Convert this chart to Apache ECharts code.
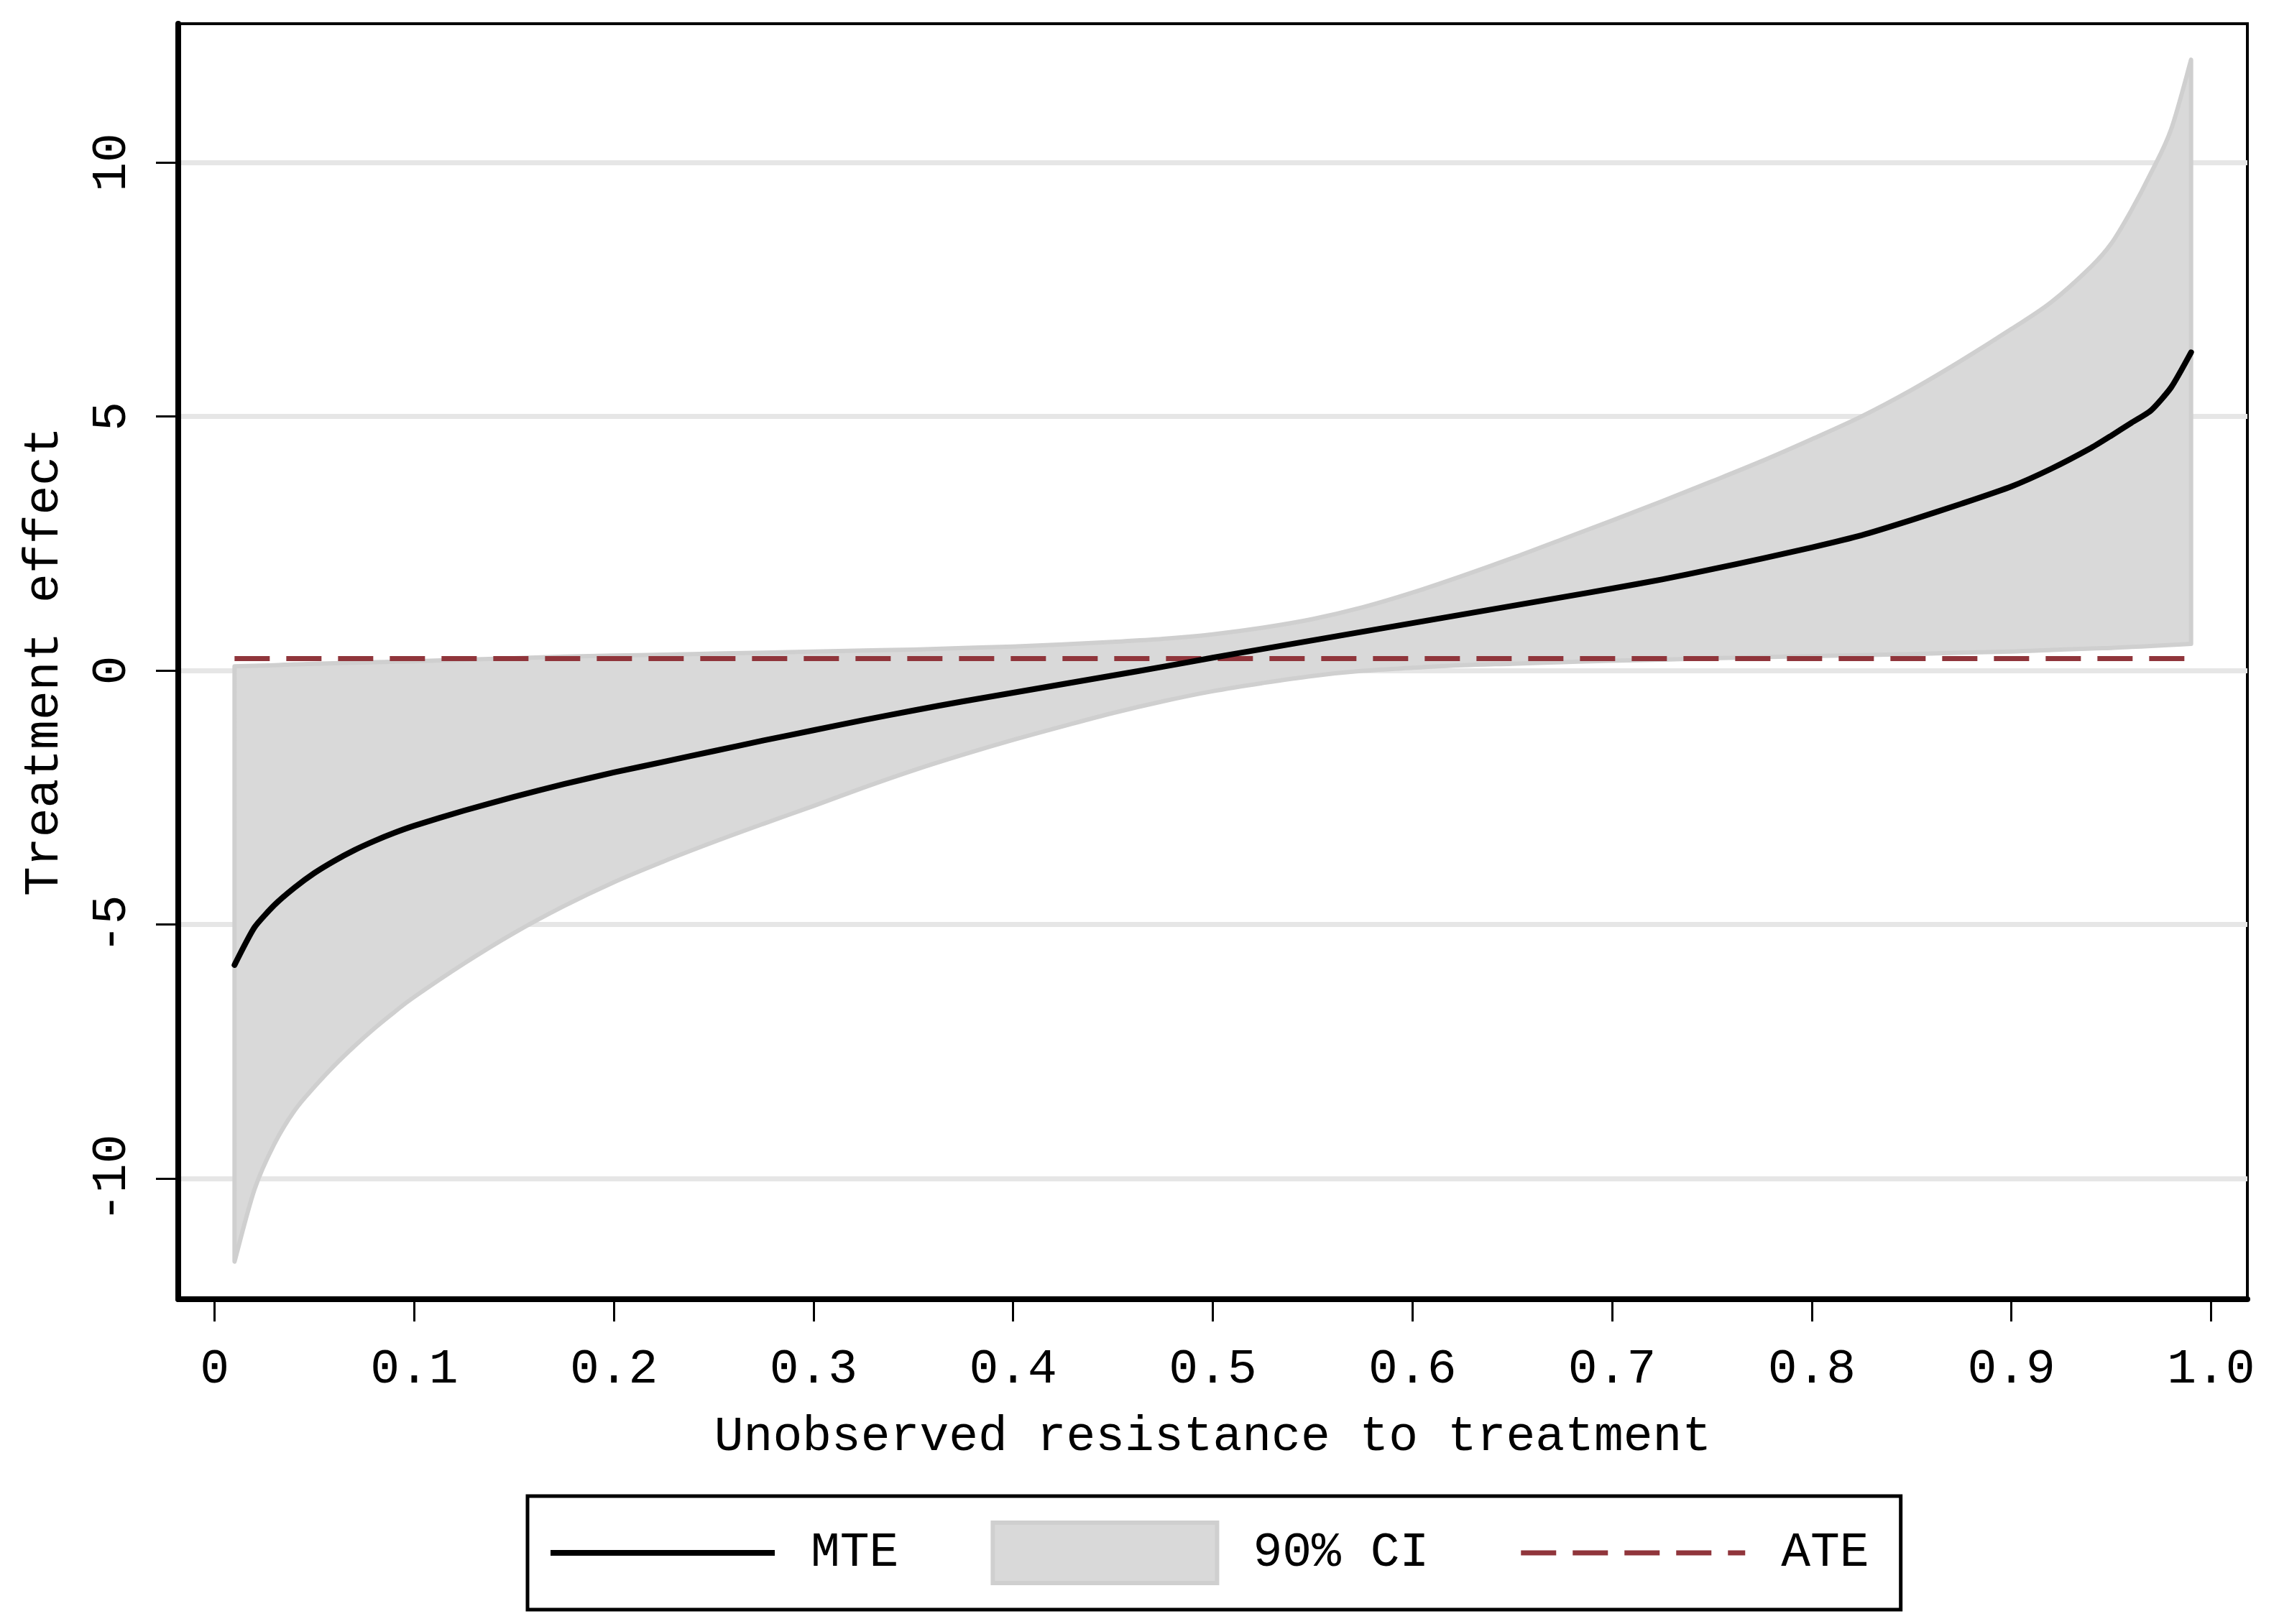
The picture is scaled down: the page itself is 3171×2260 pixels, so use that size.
<!DOCTYPE html>
<html>
<head>
<meta charset="utf-8">
<script src="https://cdn.jsdelivr.net/npm/echarts@6/dist/echarts.min.js"></script>
<style>
html,body{margin:0;padding:0;background:#fff;}
#c{width:3171px;height:2260px;}
</style>
</head>
<body>
<div id="c"></div>
<script>
// ---- data ----
const xs = [0.01,0.02,0.03,0.04,0.05,0.06,0.07,0.08,0.09,0.10,0.125,0.15,0.175,0.20,0.225,0.25,0.275,0.30,0.325,0.35,0.375,0.40,0.425,0.45,0.475,0.50,0.525,0.55,0.575,0.60,0.625,0.65,0.675,0.70,0.725,0.75,0.775,0.80,0.825,0.85,0.875,0.90,0.92,0.94,0.95,0.96,0.97,0.98,0.99];
const mte = [-5.80,-5.06,-4.62,-4.28,-3.99,-3.75,-3.54,-3.36,-3.20,-3.06,-2.76,-2.49,-2.24,-2.01,-1.80,-1.59,-1.38,-1.18,-0.98,-0.79,-0.61,-0.44,-0.27,-0.10,0.07,0.25,0.42,0.59,0.76,0.93,1.10,1.27,1.44,1.61,1.79,1.99,2.20,2.42,2.66,2.96,3.28,3.62,3.97,4.38,4.62,4.87,5.12,5.57,6.26];
const ciLower = [-11.64,-10.22,-9.32,-8.67,-8.20,-7.78,-7.40,-7.05,-6.73,-6.43,-5.77,-5.17,-4.64,-4.17,-3.76,-3.38,-3.02,-2.67,-2.31,-1.97,-1.66,-1.37,-1.10,-0.84,-0.61,-0.41,-0.25,-0.11,-0.01,0.05,0.10,0.13,0.16,0.19,0.21,0.24,0.26,0.28,0.30,0.32,0.35,0.37,0.40,0.43,0.44,0.46,0.48,0.50,0.52];
const ciUpper = [0.08,0.09,0.10,0.12,0.13,0.14,0.15,0.16,0.17,0.18,0.21,0.24,0.27,0.29,0.31,0.33,0.35,0.37,0.39,0.41,0.44,0.47,0.51,0.56,0.62,0.71,0.84,1.01,1.24,1.53,1.86,2.21,2.58,2.95,3.33,3.72,4.12,4.55,5.00,5.52,6.10,6.72,7.25,7.95,8.40,9.05,9.80,10.65,12.02];
const ateValue = 0.23;
const ateRange = [0.01, 0.99];
const xTicks = [0,0.1,0.2,0.3,0.4,0.5,0.6,0.7,0.8,0.9,1.0];
const xTickLabels = ['0','0.1','0.2','0.3','0.4','0.5','0.6','0.7','0.8','0.9','1.0'];
const yTicks = [-10,-5,0,5,10];
const yTickLabels = ['-10','-5','0','5','10'];
const seriesNames = ['MTE','90% CI','ATE'];
const xTitle = 'Unobserved resistance to treatment';
const yTitle = 'Treatment effect';

// ---- chart ----
const FONT = 'Liberation Mono';
const FS = 68;
const chart = echarts.init(document.getElementById('c'), null, {renderer:'canvas'});

function labelFor(ticks, labels){
  return function(v){
    for (let i=0;i<ticks.length;i++){ if (Math.abs(ticks[i]-v)<1e-9) return labels[i]; }
    return '';
  };
}

// Catmull-Rom spline through pixel points, as SVG path commands (no initial M)
function splineCmds(p){
  let s='';
  for(let i=0;i<p.length-1;i++){
    const p0=p[Math.max(i-1,0)], p1=p[i], p2=p[i+1], p3=p[Math.min(i+2,p.length-1)];
    const c1x=p1[0]+(p2[0]-p0[0])/6, c1y=p1[1]+(p2[1]-p0[1])/6;
    const c2x=p2[0]-(p3[0]-p1[0])/6, c2y=p2[1]-(p3[1]-p1[1])/6;
    s+=' C'+c1x.toFixed(2)+' '+c1y.toFixed(2)+' '+c2x.toFixed(2)+' '+c2y.toFixed(2)+' '+p2[0].toFixed(2)+' '+p2[1].toFixed(2);
  }
  return s;
}

// legend swatch shapes (icon paths, scaled by the legend into its item box)
const solidIcon = 'path://M0 0H312V8H0Z';
const dashIcon = 'path://M0 0H49V7H0Z M72 0H121V7H72Z M144 0H193V7H144Z M216 0H265V7H216Z M288 0H312V7H288Z';

const option = {
  animation:false,
  backgroundColor:'#ffffff',
  textStyle:{fontFamily:FONT,color:'#000'},
  grid:{left:248,right:44,top:33,bottom:452,show:true,borderColor:'#000',borderWidth:4,backgroundColor:'transparent'},
  xAxis:{
    type:'value',min:-0.0182,max:1.0182,
    name:xTitle,nameLocation:'middle',nameGap:192,
    nameTextStyle:{fontFamily:FONT,fontSize:FS,color:'#000',verticalAlign:'middle'},
    axisLine:{show:true,onZero:false,lineStyle:{color:'#000',width:8}},
    axisTick:{show:true,inside:false,length:31,customValues:xTicks,lineStyle:{color:'#000',width:3}},
    axisLabel:{show:true,customValues:xTicks,margin:98,verticalAlign:'middle',fontFamily:FONT,fontSize:FS,color:'#000',formatter:labelFor(xTicks,xTickLabels)},
    splitLine:{show:false}
  },
  yAxis:{
    type:'value',min:-12.38,max:12.73,
    name:yTitle,nameLocation:'middle',nameGap:186,
    nameTextStyle:{fontFamily:FONT,fontSize:FS,color:'#000',verticalAlign:'middle'},
    axisLine:{show:true,onZero:false,lineStyle:{color:'#000',width:8}},
    axisTick:{show:true,inside:false,length:31,customValues:yTicks,lineStyle:{color:'#000',width:3}},
    axisLabel:{show:true,customValues:yTicks,rotate:90,margin:92,align:'center',verticalAlign:'middle',fontFamily:FONT,fontSize:FS,color:'#000',formatter:labelFor(yTicks,yTickLabels)},
    splitLine:{show:true,lineStyle:{color:'#e6e6e6',width:7}}
  },
  legend:{
    left:734,top:2082,orient:'horizontal',
    padding:[34,44,34,32],itemGap:128,itemWidth:312,itemHeight:84,
    borderColor:'#000',borderWidth:5,backgroundColor:'#fff',selectedMode:false,
    textStyle:{fontFamily:FONT,fontSize:FS,color:'#000',padding:[0,0,0,45]},
    data:[
      {name:seriesNames[0],icon:solidIcon,itemStyle:{color:'#000',borderWidth:0}},
      {name:seriesNames[1],icon:'rect',itemStyle:{color:'#d9d9d9',borderColor:'#cfcfcf',borderWidth:6}},
      {name:seriesNames[2],icon:dashIcon,itemStyle:{color:'#90353b',borderWidth:0}}
    ]
  },
  series:[
    {
      type:'custom',name:seriesNames[1],coordinateSystem:'cartesian2d',
      data:[[xs[0],ciLower[0]]],encode:{x:0,y:1},silent:true,z:1,
      itemStyle:{color:'#d9d9d9'},
      renderItem:function(params,api){
        const up=[], lo=[];
        for(let i=0;i<xs.length;i++) up.push(api.coord([xs[i],ciUpper[i]]));
        for(let i=xs.length-1;i>=0;i--) lo.push(api.coord([xs[i],ciLower[i]]));
        const d='M'+up[0][0]+' '+up[0][1]+splineCmds(up)+' L'+lo[0][0]+' '+lo[0][1]+splineCmds(lo)+' Z';
        return {type:'path',shape:{pathData:d},style:{fill:'#d9d9d9',stroke:'#cfcfcf',lineWidth:6,lineJoin:'round'}};
      }
    },
    {
      type:'line',name:seriesNames[0],data:xs.map((x,i)=>[x,mte[i]]),
      symbol:'none',showSymbol:false,silent:true,z:3,smooth:0.2,
      itemStyle:{color:'#000'},
      lineStyle:{color:'#000',width:8,cap:'round',join:'round'}
    },
    {
      type:'line',name:seriesNames[2],data:ateRange.map(x=>[x,ateValue]),
      symbol:'none',showSymbol:false,silent:true,z:2,
      itemStyle:{color:'#90353b'},
      lineStyle:{color:'#90353b',width:7,type:[49,23]}
    }
  ]
};
chart.setOption(option);
</script>
</body>
</html>
